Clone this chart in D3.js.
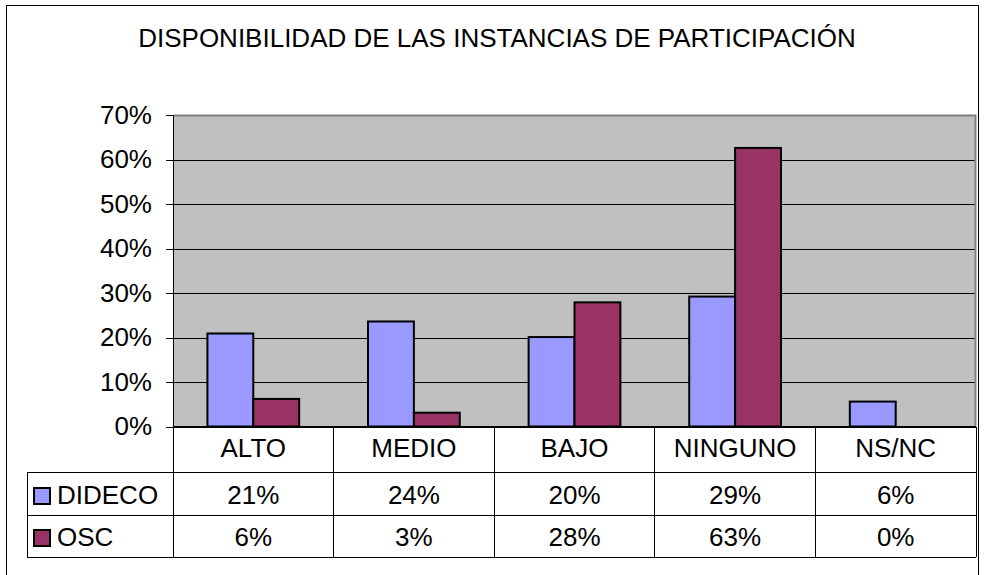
<!DOCTYPE html>
<html>
<head>
<meta charset="utf-8">
<script src="https://cdn.jsdelivr.net/npm/d3@7"></script>
<style>
  body { margin: 0; background: #fff; }
  svg { font-family: "Liberation Sans", Arial, sans-serif; }
  .grid line { stroke: #000; shape-rendering: crispEdges; }
  .table line { stroke: #000; shape-rendering: crispEdges; }
</style>
</head>
<body>
<svg id="chart" width="986" height="575"></svg>
<script>
const title = "DISPONIBILIDAD DE LAS INSTANCIAS DE PARTICIPACIÓN";
const categories = ["ALTO", "MEDIO", "BAJO", "NINGUNO", "NS/NC"];
const seriesNames = ["DIDECO", "OSC"];
const dideco = [0.209, 0.236, 0.201, 0.292, 0.056];
const osc = [0.062, 0.031, 0.279, 0.626, 0];
const yTicks = [0, 0.1, 0.2, 0.3, 0.4, 0.5, 0.6, 0.7];
const colors = ["#9999FF", "#993366"];

const series = [dideco, osc];

const svg = d3.select("#chart"),
  plot = {left: 173, right: 976, top: 115, bottom: 426.5},
  rowLines = [472.5, 515, 557],
  tableLeft = 27,
  fs = 26;

const x = d3.scaleBand()
    .domain(categories)
    .range([plot.left, plot.right]);

const y = d3.scaleLinear()
    .domain([0, 0.7])
    .range([plot.bottom, plot.top]);

const barW = x.bandwidth() / 3.5,
  groupOffset = (x.bandwidth() - 2 * barW) / 2;

const fmt = d3.format(".0%");

// outer frame
svg.append("rect")
    .attr("x", 6.5)
    .attr("y", 5.5)
    .attr("width", 972)
    .attr("height", 600)
    .attr("fill", "#fff")
    .attr("stroke", "#000");

svg.append("text")
    .attr("x", 497)
    .attr("y", 47)
    .attr("text-anchor", "middle")
    .attr("font-size", fs)
    .text(title);

// plot background
svg.append("rect")
    .attr("x", plot.left)
    .attr("y", plot.top)
    .attr("width", plot.right - plot.left)
    .attr("height", plot.bottom - plot.top)
    .attr("fill", "#C0C0C0");

const gY = svg.append("g")
    .attr("class", "grid")
    .attr("transform", "translate(" + plot.left + ",0)")
    .call(d3.axisLeft(y)
      .tickValues(yTicks)
      .tickFormat(fmt)
      .tickSize(-(plot.right - plot.left))
      .tickPadding(21));

gY.select(".domain").remove();
gY.selectAll(".tick line")
    .attr("x1", -7);
gY.selectAll(".tick text")
    .attr("font-size", fs)
    .attr("font-family", "Liberation Sans, Arial, sans-serif")
    .attr("fill", "#000");

// plot border: gray top/right, black left
svg.append("path")
    .attr("d", "M" + plot.left + "," + (plot.top + 0.5) + "H" + (plot.right - 0.5) + "V" + plot.bottom)
    .attr("fill", "none")
    .attr("stroke", "#808080")
    .attr("stroke-width", 2);

svg.append("line")
    .attr("x1", plot.left + 0.5).attr("x2", plot.left + 0.5)
    .attr("y1", plot.top).attr("y2", plot.bottom)
    .attr("stroke", "#000");

// bars
series.forEach((vals, si) => {
  svg.append("g")
    .selectAll("rect")
    .data(vals.map((v, i) => ({cat: categories[i], v: v})).filter(d => d.v > 0))
    .join("rect")
      .attr("x", d => x(d.cat) + groupOffset + si * barW)
      .attr("y", d => y(d.v))
      .attr("width", barW)
      .attr("height", d => y(0) - y(d.v))
      .attr("fill", colors[si])
      .attr("stroke", "#000")
      .attr("stroke-width", 2);
});

// data table
const table = svg.append("g").attr("class", "table");

table.selectAll(".hline")
  .data([plot.bottom].concat(rowLines))
  .join("line")
    .attr("x1", (d, i) => i === 0 ? plot.left : tableLeft)
    .attr("x2", plot.right)
    .attr("y1", d => d)
    .attr("y2", d => d);

const vlines = categories.map(c => x(c)).concat([plot.right]);
table.selectAll(".vline")
  .data(vlines)
  .join("line")
    .attr("x1", d => d).attr("x2", d => d)
    .attr("y1", plot.bottom)
    .attr("y2", rowLines[2]);

table.append("line")
    .attr("x1", tableLeft).attr("x2", tableLeft)
    .attr("y1", rowLines[0]).attr("y2", rowLines[2]);

table.selectAll(".cat")
  .data(categories)
  .join("text")
    .attr("x", d => x(d) + x.bandwidth() / 2)
    .attr("y", 457)
    .attr("text-anchor", "middle")
    .attr("font-size", fs)
    .text(d => d);

const rowBase = [504, 546];

series.forEach((vals, si) => {
  table.selectAll(".val" + si)
    .data(vals)
    .join("text")
      .attr("x", (d, i) => x(categories[i]) + x.bandwidth() / 2)
      .attr("y", rowBase[si])
      .attr("text-anchor", "middle")
      .attr("font-size", fs)
      .text(d => fmt(d));

  table.append("rect")
      .attr("x", 34)
      .attr("y", rowBase[si] - 16)
      .attr("width", 16)
      .attr("height", 16)
      .attr("fill", colors[si])
      .attr("stroke", "#000")
      .attr("stroke-width", 2);

  table.append("text")
      .attr("x", 57)
      .attr("y", rowBase[si])
      .attr("font-size", fs)
      .text(seriesNames[si]);
});
</script>
</body>
</html>
